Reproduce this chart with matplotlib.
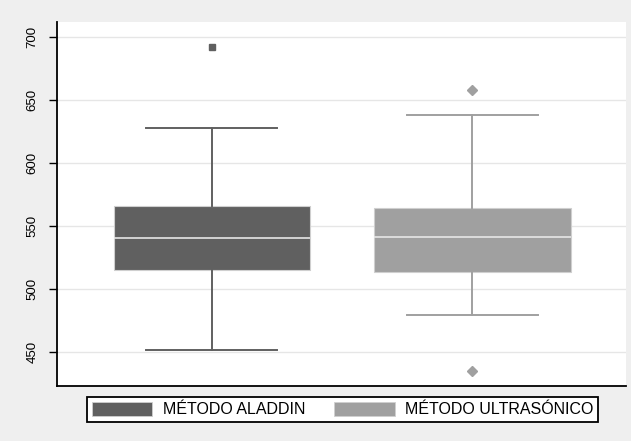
import matplotlib
matplotlib.use("Agg")
import matplotlib.pyplot as plt
from matplotlib.patches import Patch

plt.rcParams['font.family'] = ['Liberation Sans', 'DejaVu Sans']

# five-number summaries per method
metodos = ['MÉTODO ALADDIN', 'MÉTODO ULTRASÓNICO']
medianas = [540.5, 541.7]
q1 = [515.3, 513.5]
q3 = [566.1, 564.3]
bigote_inf = [451.8, 479.6]
bigote_sup = [627.8, 638.6]
atipicos = [[692.0], [658.2, 435.2]]

colores = ['#606060', '#a0a0a0']
marcadores = ['s', 'D']
tam_marcador = [4.5, 5.5]
yticks = [450, 500, 550, 600, 650, 700]

fig = plt.figure(figsize=(6.31, 4.41), dpi=100, facecolor='#efefef')
ax = fig.add_axes([0.0899, 0.1254, 0.902, 0.8254])
ax.set_facecolor('white')

for i in range(len(metodos)):
    stats = [dict(med=medianas[i], q1=q1[i], q3=q3[i],
                  whislo=bigote_inf[i], whishi=bigote_sup[i],
                  fliers=atipicos[i])]
    ax.bxp(stats, positions=[i + 1], widths=0.756, patch_artist=True,
           boxprops=dict(facecolor=colores[i], edgecolor='#cfcfcf', linewidth=0.8),
           medianprops=dict(color='#e6e6e6', linewidth=1.2),
           whiskerprops=dict(color=colores[i], linewidth=1.4),
           capprops=dict(color=colores[i], linewidth=1.4),
           capwidths=0.503,
           flierprops=dict(marker=marcadores[i], markerfacecolor=colores[i],
                           markeredgecolor=colores[i], markersize=tam_marcador[i]),
           zorder=3)

ax.set_xlim(0.404, 2.589)
ax.set_ylim(423.5, 712.4)
ax.set_xticks([])
ax.set_yticks(yticks)
ax.set_yticklabels([str(t) for t in yticks], rotation=90, va='center', fontsize=9.5)
ax.tick_params(axis='y', length=6, width=1, pad=7, color='black')
ax.grid(axis='y', color='#e6e6e6', linewidth=1)
ax.set_axisbelow(True)
for s in ['top', 'right']:
    ax.spines[s].set_visible(False)
for s in ['left', 'bottom']:
    ax.spines[s].set_linewidth(1.3)
    ax.spines[s].set_color('black')

handles = [Patch(facecolor=c, edgecolor='#cfcfcf', linewidth=0.6) for c in colores]
leg = fig.legend(handles, metodos, loc='center', ncol=2,
                 bbox_to_anchor=(342.5 / 631, 1 - 409.5 / 441),
                 fontsize=11.5, frameon=True, fancybox=False,
                 handlelength=3.8, handleheight=1.0, handletextpad=0.65,
                 columnspacing=1.8, borderpad=0.3)
leg.get_frame().set_edgecolor('black')
leg.get_frame().set_linewidth(1.3)
leg.get_frame().set_facecolor('white')
leg.get_frame().set_alpha(1)

fig.savefig('out.png', dpi=100, facecolor=fig.get_facecolor())
